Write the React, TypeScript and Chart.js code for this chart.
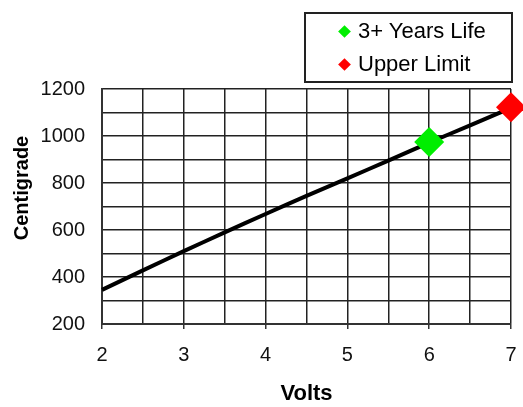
import React, { useEffect, useRef } from "react";
import { Chart, registerables } from "chart.js";

Chart.register(...registerables);

const VOLTS = [2, 2.5, 3, 3.5, 4, 4.5, 5, 5.5, 6, 6.5, 7];
const CENTIGRADE = [345, 428, 510, 590, 668, 745, 820, 895, 972, 1045, 1120];
const LIFE_POINT = { x: 6, y: 975 };
const LIMIT_POINT = { x: 7, y: 1122 };
const LEGEND_LABELS = ["3+ Years Life", "Upper Limit"];
const LEGEND_COLORS = ["#00ee00", "#ff0000"];
const X_TITLE = "Volts";
const Y_TITLE = "Centigrade";

const FONT = "'Liberation Sans', Arial, sans-serif";

const yTitlePlugin = {
  id: "yTitle",
  afterDraw(chart: any) {
    const ctx = chart.ctx;
    ctx.save();
    ctx.translate(22, 188);
    ctx.rotate(-Math.PI / 2);
    ctx.font = `bold 20px ${FONT}`;
    ctx.fillStyle = "#000";
    ctx.textAlign = "center";
    ctx.textBaseline = "middle";
    ctx.fillText(Y_TITLE, 0, 0);
    ctx.restore();
  },
};

export default function App() {
  const ref = useRef<HTMLCanvasElement | null>(null);

  useEffect(() => {
    document.body.style.margin = "0";
    const canvas = ref.current;
    if (!canvas) return;
    const chart = new Chart(canvas, {
      type: "line",
      data: {
        datasets: [
          {
            label: LEGEND_LABELS[0],
            data: [LIFE_POINT],
            showLine: false,
            pointStyle: "rectRot",
            pointRadius: 15,
            pointBackgroundColor: LEGEND_COLORS[0],
            pointBorderColor: LEGEND_COLORS[0],
            borderWidth: 0,
            order: 0,
            clip: false,
          },
          {
            label: LEGEND_LABELS[1],
            data: [LIMIT_POINT],
            showLine: false,
            pointStyle: "rectRot",
            pointRadius: 15,
            pointBackgroundColor: LEGEND_COLORS[1],
            pointBorderColor: LEGEND_COLORS[1],
            borderWidth: 0,
            order: 0,
            clip: false,
          },
          {
            label: "Temperature",
            data: VOLTS.map((v, i) => ({ x: v, y: CENTIGRADE[i] })),
            borderColor: "#000000",
            borderWidth: 4,
            pointRadius: 0,
            tension: 0.2,
            order: 1,
            clip: false,
          },
        ],
      },
      options: {
        responsive: false,
        animation: false,
        layout: { autoPadding: false, padding: { top: 89, right: 12, left: 0, bottom: 0 } },
        plugins: { legend: { display: false }, tooltip: { enabled: false } },
        scales: {
          x: {
            type: "linear",
            min: 2,
            max: 7,
            afterFit: (s: any) => {
              s.height = 83;
              s.paddingLeft = 0;
              s.paddingRight = 0;
            },
            ticks: {
              stepSize: 0.5,
              autoSkip: false,
              maxRotation: 0,
              padding: 14,
              color: "#111",
              font: { family: FONT, size: 20 },
              callback: (v: any) => (Number(v) % 1 === 0 ? String(v) : ""),
            },
            grid: {
              color: "#222",
              lineWidth: 1.5,
              tickLength: 5,
              tickColor: (ctx: any) =>
                ctx.tick && Number(ctx.tick.value) % 1 === 0 ? "#333" : "rgba(0,0,0,0)",
            },
            border: { color: "#333", width: 2 },
            title: {
              display: true,
              text: X_TITLE,
              color: "#000",
              font: { family: FONT, size: 22, weight: "bold" },
              padding: { top: 0, bottom: 0 },
            },
          },
          y: {
            min: 200,
            max: 1200,
            afterFit: (s: any) => {
              s.width = 102;
              s.paddingTop = 0;
              s.paddingBottom = 0;
            },
            ticks: {
              stepSize: 100,
              autoSkip: false,
              padding: 17,
              color: "#111",
              font: { family: FONT, size: 20 },
              callback: (v: any) => (Number(v) % 200 === 0 ? String(v) : ""),
            },
            grid: { color: "#222", lineWidth: 1.5, drawTicks: false },
            border: { color: "#333", width: 2 },
            title: { display: false },
          },
        },
      },
      plugins: [yTitlePlugin],
    });
    return () => chart.destroy();
  }, []);

  return (
    <div style={{ position: "relative", width: 523, height: 407, background: "#fff" }}>
      <canvas ref={ref} width={523} height={407} style={{ display: "block" }} />
      <div
        style={{
          position: "absolute",
          left: 304,
          top: 12,
          width: 205,
          height: 67,
          border: "2px solid #222",
          fontFamily: FONT,
          fontSize: 22,
          color: "#000",
          boxSizing: "content-box",
        }}
      >
        {LEGEND_LABELS.map((label, i) => (
          <div
            key={label}
            style={{
              position: "absolute",
              left: 34,
              top: i === 0 ? 2 : 35,
              height: 30,
              display: "flex",
              alignItems: "center",
              whiteSpace: "nowrap",
            }}
          >
            <span
              style={{
                display: "inline-block",
                width: 9,
                height: 9,
                background: LEGEND_COLORS[i],
                transform: "rotate(45deg)",
                marginRight: 9,
              }}
            />
            {label}
          </div>
        ))}
      </div>
    </div>
  );
}
